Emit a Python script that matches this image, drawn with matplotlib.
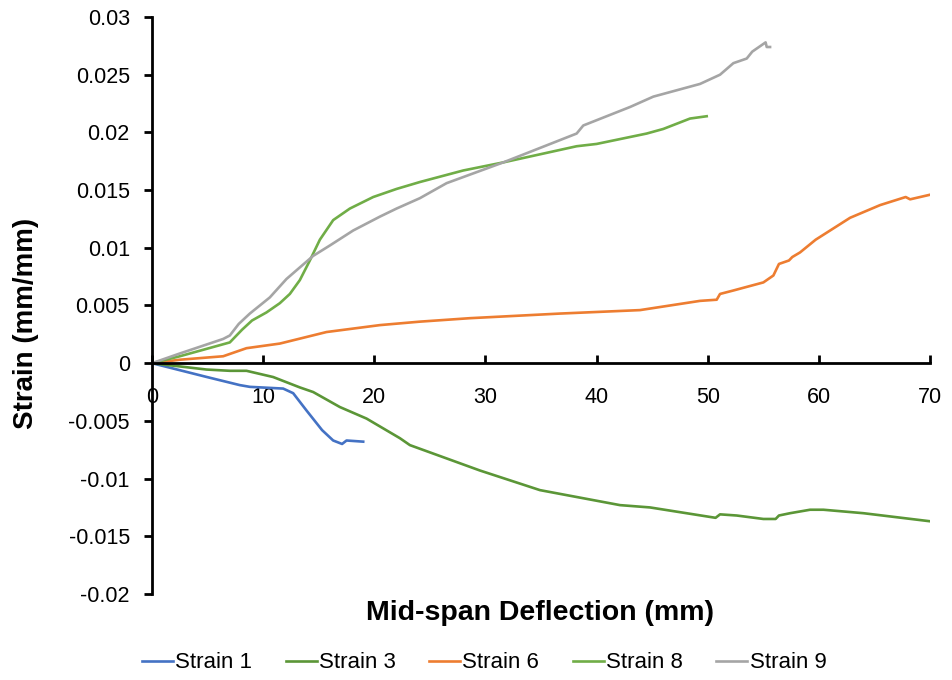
import matplotlib
matplotlib.use("Agg")
import matplotlib.pyplot as plt

plt.rcParams['font.family'] = ['Liberation Sans', 'DejaVu Sans']

# Strain gauge readings vs mid-span deflection
s1_x = [0, 4.9, 7.9, 8.8, 11.8, 12.7, 13.9, 15.3, 16.3, 17.1, 17.5, 19.0]
s1_y = [0, -0.00119, -0.0019, -0.00205, -0.0022, -0.0026, -0.0041, -0.0058, -0.0067, -0.0070, -0.0067, -0.0068]

s3_x = [0, 4.9, 7.0, 8.5, 10.9, 13.3, 14.5, 16.9, 19.3, 22.3, 23.2, 29.5, 34.9, 42.1, 44.8, 50.7,
        51.1, 52.6, 55.0, 56.1, 56.4, 57.4, 59.2, 60.4, 64.0, 70.0]
s3_y = [0, -0.00055, -0.00066, -0.00066, -0.0012, -0.0021, -0.0025, -0.0038, -0.0048, -0.0065,
        -0.0071, -0.0093, -0.0110, -0.0123, -0.0125, -0.0134, -0.0131, -0.0132, -0.0135, -0.0135,
        -0.0132, -0.0130, -0.0127, -0.0127, -0.0130, -0.0137]

s6_x = [0, 2.5, 6.4, 8.5, 11.5, 15.7, 20.5, 24.1, 28.6, 36.7, 43.9, 49.3, 50.8, 51.1, 52.3, 55.0,
        55.9, 56.4, 57.3, 57.6, 58.3, 59.7, 62.8, 65.5, 67.8, 68.2, 70.0]
s6_y = [0, 0.0003, 0.0006, 0.0013, 0.0017, 0.0027, 0.0033, 0.0036, 0.0039, 0.0043, 0.0046,
        0.0054, 0.0055, 0.0060, 0.0063, 0.0070, 0.0076, 0.0086, 0.0089, 0.0092, 0.0096, 0.0107,
        0.0126, 0.0137, 0.0144, 0.0142, 0.0146]

s8_x = [0, 2.5, 5.5, 7.0, 8.1, 9.0, 10.3, 11.5, 12.4, 13.3, 14.2, 15.1, 16.3, 17.8, 19.9, 22.0,
        24.1, 28.0, 31.6, 38.2, 40.0, 44.5, 46.0, 48.4, 49.9]
s8_y = [0, 0.0006, 0.0014, 0.0018, 0.0029, 0.0037, 0.0044, 0.0052, 0.0060, 0.0072, 0.0089,
        0.0107, 0.0124, 0.0134, 0.0144, 0.0151, 0.0157, 0.0167, 0.0174, 0.0188, 0.0190, 0.0199,
        0.0203, 0.0212, 0.0214]

s9_x = [0, 2.5, 6.4, 7.0, 7.8, 8.8, 10.6, 12.1, 13.3, 14.5, 16.0, 18.1, 20.5, 22.0, 24.1, 26.5,
        31.6, 38.2, 38.8, 43.0, 45.1, 49.3, 51.1, 52.3, 53.5, 54.0, 55.2, 55.3, 55.6]
s9_y = [0, 0.00084, 0.0021, 0.0024, 0.0034, 0.0043, 0.0057, 0.0073, 0.0083, 0.0093, 0.0102,
        0.0115, 0.0127, 0.0134, 0.0143, 0.0156, 0.0174, 0.0199, 0.0206, 0.0222, 0.0231, 0.0242,
        0.0250, 0.0260, 0.0264, 0.0270, 0.0278, 0.0274, 0.0274]

series = [
    ("Strain 1", s1_x, s1_y, "#4472C4"),
    ("Strain 3", s3_x, s3_y, "#5B9637"),
    ("Strain 6", s6_x, s6_y, "#ED7D31"),
    ("Strain 8", s8_x, s8_y, "#70AD47"),
    ("Strain 9", s9_x, s9_y, "#A5A5A5"),
]

x_ticks = [0, 10, 20, 30, 40, 50, 60, 70]
y_ticks = [-0.02, -0.015, -0.01, -0.005, 0, 0.005, 0.01, 0.015, 0.02, 0.025, 0.03]
y_tick_labels = ["-0.02", "-0.015", "-0.01", "-0.005", "0", "0.005", "0.01", "0.015", "0.02", "0.025", "0.03"]

fig = plt.figure(figsize=(9.53, 6.8), dpi=100)
ax = fig.add_axes([0.1595, 0.1265, 0.8165, 0.8485])

for name, xs, ys, col in series:
    ax.plot(xs, ys, color=col, lw=1.9, label=name, solid_joinstyle='round')

ax.set_xlim(0, 70)
ax.set_ylim(-0.02, 0.03)
ax.set_xticks(x_ticks)
ax.set_xticklabels([str(t) for t in x_ticks])
ax.set_yticks(y_ticks)
ax.set_yticklabels(y_tick_labels)

ax.spines['top'].set_visible(False)
ax.spines['right'].set_visible(False)
ax.spines['bottom'].set_position(('data', 0))
for sp in ('left', 'bottom'):
    ax.spines[sp].set_linewidth(2.0)
    ax.spines[sp].set_color('black')

ax.tick_params(axis='x', direction='in', length=6, width=2.0, labelsize=15.5, pad=17)
ax.tick_params(axis='y', direction='out', length=6, width=2.0, labelsize=15.5, pad=10)

fig.text(0.567, 0.099, "Mid-span Deflection (mm)", ha='center', va='center',
         fontsize=20.5, fontweight='bold')
fig.text(0.027, 0.525, "Strain (mm/mm)", ha='center', va='center', rotation=90,
         fontsize=20, fontweight='bold')

fig.legend(loc='center', bbox_to_anchor=(0.508, 0.025), ncol=5, frameon=False,
           fontsize=16, handlelength=1.4, handletextpad=0.1, columnspacing=1.5)

fig.savefig("out.png", dpi=100)
